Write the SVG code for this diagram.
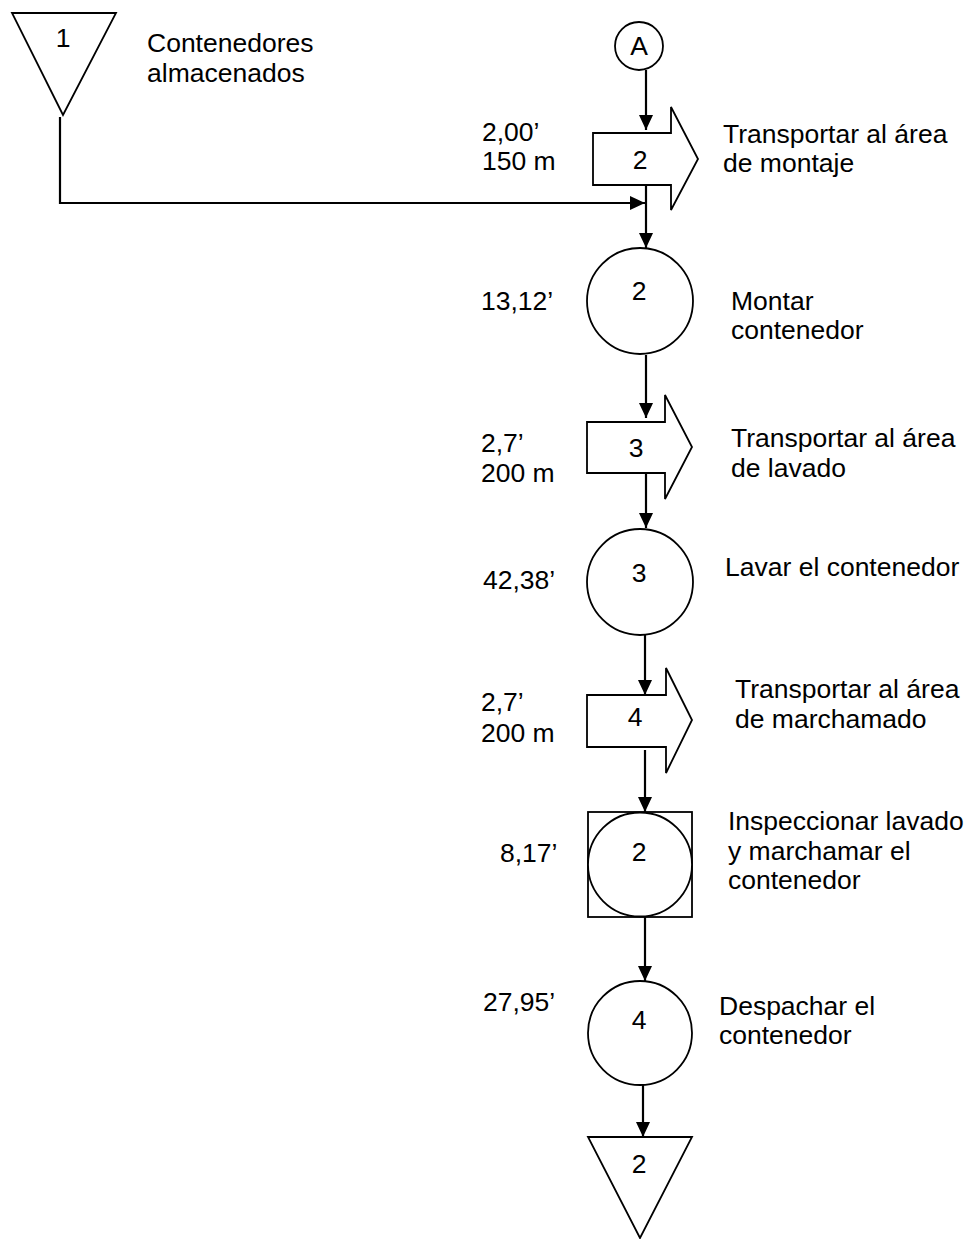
<svg xmlns="http://www.w3.org/2000/svg" width="969" height="1239" viewBox="0 0 969 1239">
  <style>
    .shape { fill: #ffffff; stroke: #000000; stroke-width: 1.8; }
    .edge { fill: none; stroke: #000000; stroke-width: 2.2; }
    text { font-family: "Liberation Sans", Arial, sans-serif; font-size: 26.5px; fill: #000000; }
    .c { text-anchor: middle; }
  </style>
  <defs>
    <marker id="arrow" markerUnits="userSpaceOnUse" markerWidth="16" markerHeight="14" viewBox="0 0 16 14" refX="15" refY="7" orient="auto">
      <path d="M0,0 L15,7 L0,14 Z" fill="#000000"/>
    </marker>
  </defs>
  <rect width="969" height="1239" fill="#ffffff"/>

  <!-- connectors -->
  <g id="connectors">
    <polyline class="edge" points="60,117 60,203 645,203" marker-end="url(#arrow)"/>
    <line class="edge" x1="646" y1="70" x2="646" y2="130" marker-end="url(#arrow)"/>
    <line class="edge" x1="646" y1="185" x2="646" y2="248" marker-end="url(#arrow)"/>
    <line class="edge" x1="646" y1="355" x2="646" y2="418" marker-end="url(#arrow)"/>
    <line class="edge" x1="646" y1="474" x2="646" y2="528" marker-end="url(#arrow)"/>
    <line class="edge" x1="645" y1="635" x2="645" y2="695" marker-end="url(#arrow)"/>
    <line class="edge" x1="645" y1="750" x2="645" y2="812" marker-end="url(#arrow)"/>
    <line class="edge" x1="645" y1="917" x2="645" y2="981" marker-end="url(#arrow)"/>
    <line class="edge" x1="643" y1="1085" x2="643" y2="1137" marker-end="url(#arrow)"/>
  </g>

  <!-- storage 1 -->
  <g id="storage1">
    <polygon class="shape" points="12,13 116,13 63,115"/>
    <text class="c" x="63" y="47">1</text>
    <text x="147" y="52">Contenedores</text>
    <text x="147" y="82">almacenados</text>
  </g>

  <!-- connector A -->
  <g id="connectorA">
    <circle class="shape" cx="639" cy="46" r="24"/>
    <text class="c" x="639" y="55">A</text>
  </g>

  <!-- transport 2 -->
  <g id="transport2">
    <polygon class="shape" points="593,133 671,133 671,107 698,159 671,210 671,185 593,185"/>
    <text class="c" x="640" y="169">2</text>
    <text x="482" y="141">2,00’</text>
    <text x="482" y="170">150 m</text>
    <text x="723" y="143">Transportar al área</text>
    <text x="723" y="172">de montaje</text>
  </g>

  <!-- operation 2 -->
  <g id="operation2">
    <circle class="shape" cx="640" cy="301" r="53"/>
    <text class="c" x="639" y="300">2</text>
    <text x="481" y="310">13,12’</text>
    <text x="731" y="310">Montar</text>
    <text x="731" y="339">contenedor</text>
  </g>

  <!-- transport 3 -->
  <g id="transport3">
    <polygon class="shape" points="587,422 665,422 665,395 692,447 665,499 665,473 587,473"/>
    <text class="c" x="636" y="457">3</text>
    <text x="481" y="452">2,7’</text>
    <text x="481" y="482">200 m</text>
    <text x="731" y="447">Transportar al área</text>
    <text x="731" y="477">de lavado</text>
  </g>

  <!-- operation 3 -->
  <g id="operation3">
    <circle class="shape" cx="640" cy="582" r="53"/>
    <text class="c" x="639" y="582">3</text>
    <text x="483" y="589">42,38’</text>
    <text x="725" y="576">Lavar el contenedor</text>
  </g>

  <!-- transport 4 -->
  <g id="transport4">
    <polygon class="shape" points="587,695 666,695 666,668 692,720 666,773 666,747 587,747"/>
    <text class="c" x="635" y="726">4</text>
    <text x="481" y="711">2,7’</text>
    <text x="481" y="742">200 m</text>
    <text x="735" y="698">Transportar al área</text>
    <text x="735" y="728">de marchamado</text>
  </g>

  <!-- combined inspection / operation 2 -->
  <g id="inspection2">
    <rect class="shape" x="588" y="812" width="104" height="105"/>
    <circle class="shape" cx="640" cy="864.5" r="52"/>
    <text class="c" x="639" y="861">2</text>
    <text x="500" y="862">8,17’</text>
    <text x="728" y="830">Inspeccionar lavado</text>
    <text x="728" y="860">y marchamar el</text>
    <text x="728" y="889">contenedor</text>
  </g>

  <!-- operation 4 -->
  <g id="operation4">
    <circle class="shape" cx="640" cy="1033" r="52"/>
    <text class="c" x="639" y="1029">4</text>
    <text x="483" y="1011">27,95’</text>
    <text x="719" y="1015">Despachar el</text>
    <text x="719" y="1044">contenedor</text>
  </g>

  <!-- storage 2 -->
  <g id="storage2">
    <polygon class="shape" points="588,1137 692,1137 640,1238"/>
    <text class="c" x="639" y="1173">2</text>
  </g>
</svg>
